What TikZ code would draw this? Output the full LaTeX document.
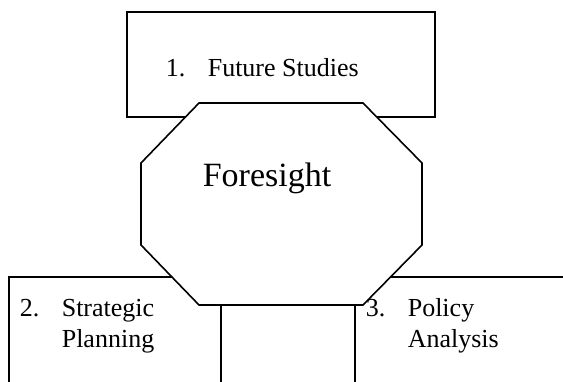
\documentclass[tikz,border=0pt]{standalone}
\usepackage{fontspec}
\setmainfont{Liberation Serif}
\begin{document}
\begin{tikzpicture}[x=1pt,y=-1pt,line width=1.6pt,
  box/.style={draw,rectangle,inner sep=0pt,line width=1.6pt},
  lbl/.style={font=\fontsize{26}{30}\selectfont,inner sep=0pt,anchor=base west},
  big/.style={font=\fontsize{34}{40}\selectfont,inner sep=0pt,anchor=base west}]
\useasboundingbox (0,0) rectangle (563,381);
\clip (0,0) rectangle (563,381);
% the three fields
\node[box,minimum width=308pt,minimum height=105pt] (future) at (281,64.5) {};
\node[box,minimum width=212pt,minimum height=143pt] (strategic) at (115,348.5) {};
\node[box,minimum width=265pt,minimum height=143pt] (policy) at (487.5,348.5) {};
% central octagon laid over the fields
\draw[fill=white] (199,103) -- (363,103) -- (422,163) -- (422,245)
  -- (363,305) -- (199,305) -- (141,245) -- (141,163) -- cycle;
\node[big] (foresight) at (202,186) {Foresight};
% field labels
\node[lbl] (n1) at (165,76) {1.};
\node[lbl] (t1) at (207,76) {Future Studies};
\node[lbl] (n2) at (19,316) {2.};
\node[lbl] (t2a) at (61,316) {Strategic};
\node[lbl] (t2b) at (61,347) {Planning};
\node[lbl] (n3) at (365,316) {3.};
\node[lbl] (t3a) at (407,316) {Policy};
\node[lbl] (t3b) at (407,347) {Analysis};
\end{tikzpicture}
\end{document}
